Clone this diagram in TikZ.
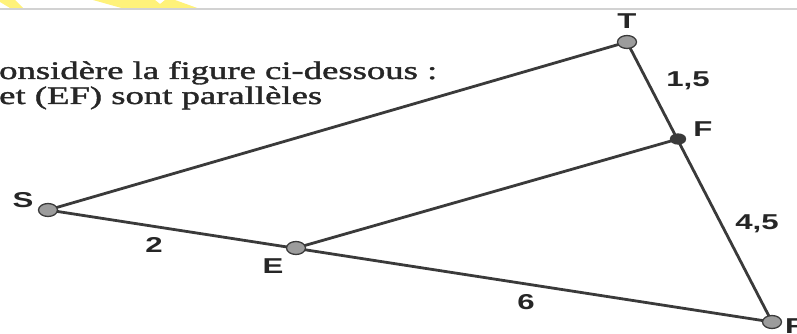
\documentclass[tikz,border=0pt]{standalone}
\usepackage{fontspec}
\setmainfont{Liberation Serif}
\setsansfont{Liberation Sans}
\newfontfamily\heavyserif{Liberation Serif}[FakeBold=1.2]
\usepackage{graphicx}
\usepackage{xcolor}
\usepackage{tikz}
\usetikzlibrary{shapes.geometric}
\definecolor{segline}{HTML}{3A3A3A}
\definecolor{ptgray}{HTML}{9C9C9C}
\definecolor{hilite}{HTML}{FFF27A}
\definecolor{rulegray}{HTML}{D2D2D2}
\newcommand{\wide}[1]{\scalebox{1.45}[1]{#1}}

\begin{document}
\begin{tikzpicture}[
    x=1pt, y=-1pt,
    seg/.style={draw=segline, line width=2.8pt},
    pt/.style={
      ellipse,
      draw=segline,
      line width=1.3pt,
      fill=ptgray,
      minimum width=19pt,
      minimum height=13pt,
      inner sep=0pt
    },
    ptdark/.style={pt, fill=segline, minimum width=15pt, minimum height=10pt},
    lbl/.style={inner sep=0pt, font=\sffamily\bfseries\fontsize{21.5}{24}\selectfont, text=black!85},
    txt/.style={inner sep=0pt, anchor=base west, font=\heavyserif\fontsize{25.3}{28}\selectfont, text=black!85}
  ]
    \clip (0,0) rectangle (797,334);
    \fill[white] (0,0) rectangle (797,334);

    \fill[hilite] (0,0) -- (15,0) -- (23,8) -- (10,8) -- (0,2) -- cycle;
    \fill[hilite] (93,0) -- (155,0) -- (160,4) -- (165,0) -- (175,0) -- (200,9) -- (125,9) -- cycle;
    \draw[rulegray, line width=1.6pt] (0,9) -- (797,9);

    \node[txt] (line1) at (-1,79) {\wide{onsidère la figure ci-dessous :}};
    \node[txt] (line2) at (-1,104) {\wide{et (EF) sont parallèles}};

    \coordinate (T) at (627,42);
    \coordinate (F) at (678,139);
    \coordinate (S) at (48,210);
    \coordinate (E) at (296,248);
    \coordinate (R) at (772,322);

    \draw[seg] (S) -- (T);
    \draw[seg] (T) -- (R);
    \draw[seg] (S) -- (R);
    \draw[seg] (E) -- (F);

    \node[pt] (ptT) at (T) {};
    \node[pt] (ptS) at (S) {};
    \node[pt] (ptE) at (E) {};
    \node[pt] (ptR) at (R) {};
    \node[ptdark] (ptF) at (F) {};

    \node[lbl] (labT) at (627,21) {\wide{T}};
    \node[lbl] (labF) at (703,129) {\wide{F}};
    \node[lbl] (labS) at (23,200) {\wide{S}};
    \node[lbl] (labE) at (273,266) {\wide{E}};
    \node[lbl, anchor=west] (labR) at (785,326) {\wide{R}};

    \node[lbl] (lenTF) at (688,81) {\wide{1,5}};
    \node[lbl] (lenFR) at (757,224) {\wide{4,5}};
    \node[lbl] (lenSE) at (154,245) {\wide{2}};
    \node[lbl] (lenER) at (526,302) {\wide{6}};
  \end{tikzpicture}
\end{document}
